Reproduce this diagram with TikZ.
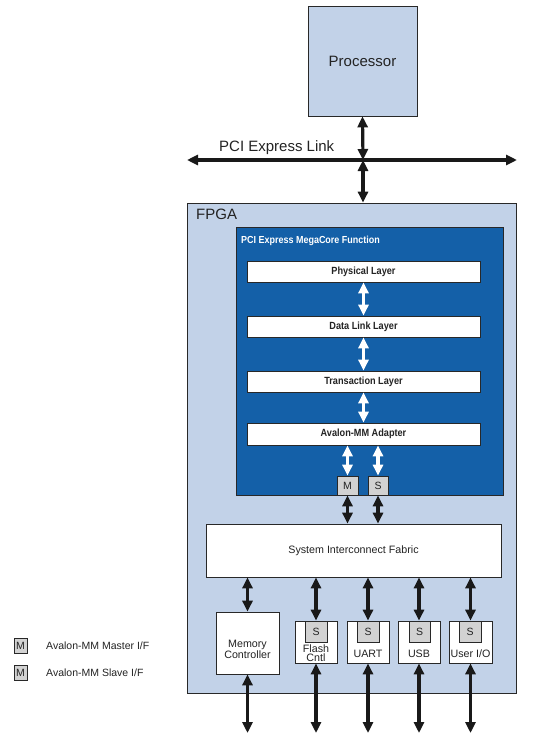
\documentclass[tikz,border=0pt]{standalone}
\usepackage{fontspec}
\setmainfont{Liberation Sans}
\newfontfamily\condb[FakeStretch=0.88]{Liberation Sans Bold}
\usetikzlibrary{arrows.meta}
\definecolor{lblue}{RGB}{194,210,232}
\definecolor{dblue}{RGB}{20,96,168}
\definecolor{lgray}{RGB}{210,210,210}
\definecolor{edge}{RGB}{40,40,40}
\definecolor{txt}{RGB}{35,35,35}
\begin{document}
\begin{tikzpicture}[x=1pt,y=-1pt,
  box/.style={draw=edge, line width=0.7pt, inner sep=0pt, rectangle, text=txt},
  bluebox/.style={box, fill=lblue},
  whitebox/.style={box, fill=white},
  layerbox/.style={box, fill=white, draw=edge, minimum width=233pt, font=\condb\fontsize{10.4}{12}\selectfont},
  ifbox/.style={box, fill=lgray, font=\fontsize{10.5}{12}\selectfont},
  arr/.style={line width=3.2pt, draw=black!90, {Triangle[length=11pt,width=10pt]}-{Triangle[length=11pt,width=10pt]}},
  warr/.style={arr, draw=white, fill=white},
  lbl/.style={font=\fontsize{10.7}{12}\selectfont, text=txt}
]
\useasboundingbox (0,0) rectangle (540,739);

% Processor
\node[bluebox, minimum width=109pt, minimum height=110pt, font=\fontsize{15}{18}\selectfont] (proc) at (362.5,61) {Processor};

% PCI Express link
\coordinate (lk) at (363,160);
\coordinate (lkl) at (187,160);
\coordinate (lkr) at (517,160);
\node[anchor=base west, font=\fontsize{15}{18}\selectfont, text=txt, inner sep=0pt] (lktxt) at (219,151) {PCI Express Link};

% FPGA
\node[bluebox, minimum width=329pt, minimum height=490pt] (fpga) at (351.5,448) {};
\node[anchor=base west, font=\fontsize{15}{18}\selectfont, text=txt, inner sep=0pt] (fpgatxt) at (196,219.5) {FPGA};

% MegaCore
\node[box, fill=dblue, draw=edge, minimum width=267pt, minimum height=268pt] (mc) at (369.5,361) {};
\node[anchor=base west, font=\condb\fontsize{10.2}{12}\selectfont, text=white, inner sep=0pt] (mctxt) at (241,243) {PCI Express MegaCore Function};

\node[layerbox, minimum height=21pt] (phys) at (363.5,271.5) {Physical Layer};
\node[layerbox, minimum height=21pt] (dl) at (363.5,326.5) {Data Link Layer};
\node[layerbox, minimum height=21pt] (tl) at (363.5,381.5) {Transaction Layer};
\node[layerbox, minimum height=22pt] (ad) at (363.5,434) {Avalon-MM Adapter};

\node[ifbox, minimum width=21pt, minimum height=19pt] (mif) at (347.5,485.5) {M};
\node[ifbox, minimum width=20pt, minimum height=19pt] (sif) at (378,485.5) {S};

% Fabric
\node[whitebox, minimum width=295pt, minimum height=53pt, lbl] (fab) at (353.5,550.5) {System Interconnect Fabric};

% Modules
\node[whitebox, minimum width=63pt, minimum height=62pt] (mem) at (247.5,643) {};
\node[lbl, align=center, inner sep=0pt, anchor=base] (tmem) at (247.5,658) {Memory\\[-1pt]Controller};

\node[whitebox, minimum width=42pt, minimum height=42pt] (flash) at (316,642) {};
\node[whitebox, minimum width=42pt, minimum height=42pt] (uart) at (368,642) {};
\node[whitebox, minimum width=42pt, minimum height=42pt] (usb) at (419,642) {};
\node[whitebox, minimum width=43pt, minimum height=42pt] (uio) at (470.5,642) {};

\node[ifbox, minimum width=22pt, minimum height=21pt] (sflash) at (316,631.5) {S};
\node[ifbox, minimum width=22pt, minimum height=21pt] (suart) at (368,631.5) {S};
\node[ifbox, minimum width=21pt, minimum height=21pt] (susb) at (419.5,631.5) {S};
\node[ifbox, minimum width=22pt, minimum height=21pt] (suio) at (470,631.5) {S};

\node[lbl, align=center, inner sep=0pt, anchor=base] (tflash) at (316,661) {Flash\\[-3pt]Cntl};
\node[lbl, inner sep=0pt, anchor=base] (tuart) at (368,657) {UART};
\node[lbl, inner sep=0pt, anchor=base] (tusb) at (419,657) {USB};
\node[lbl, inner sep=0pt, anchor=base] (tuio) at (470.5,657) {User I/O};

% Arrows top
\draw[arr] (proc.south) -- (lk);
\draw[arr] (lk) -- (lk |- fpga.north);
\draw[arr] (lkl) -- (lkr);

% White arrows
\draw[warr] (phys.south) -- (dl.north);
\draw[warr] (dl.south) -- (tl.north);
\draw[warr] (tl.south) -- (ad.north);
\draw[warr] (mif.north) -- (mif.north |- ad.south);
\draw[warr] (sif.north) -- (sif.north |- ad.south);

% Black arrows to fabric
\draw[arr] (mif.south) -- (mif.south |- fab.north);
\draw[arr] (sif.south) -- (sif.south |- fab.north);

\draw[arr] (mem.north) -- (mem.north |- fab.south);
\draw[arr] (flash.north) -- (flash.north |- fab.south);
\draw[arr] (uart.north) -- (uart.north |- fab.south);
\draw[arr] (usb.north) -- (usb.north |- fab.south);
\draw[arr] (uio.north) -- (uio.north |- fab.south);

% Bottom arrows
\coordinate (bot) at (0,733);
\draw[arr] (mem.south) -- (mem.south |- bot);
\draw[arr] (flash.south) -- (flash.south |- bot);
\draw[arr] (uart.south) -- (uart.south |- bot);
\draw[arr] (usb.south) -- (usb.south |- bot);
\draw[arr] (uio.south) -- (uio.south |- bot);

% Legend
\node[ifbox, minimum width=13pt, minimum height=15pt] (lgm) at (20.5,645.5) {M};
\node[ifbox, minimum width=13pt, minimum height=15pt] (lgs) at (20.5,672.5) {M};
\node[anchor=west, inner sep=0pt, font=\fontsize{10.5}{12}\selectfont, text=txt] (lgmt) at (46,645.5) {Avalon-MM Master I/F};
\node[anchor=west, inner sep=0pt, font=\fontsize{10.5}{12}\selectfont, text=txt] (lgst) at (46,672.5) {Avalon-MM Slave I/F};
\end{tikzpicture}
\end{document}
